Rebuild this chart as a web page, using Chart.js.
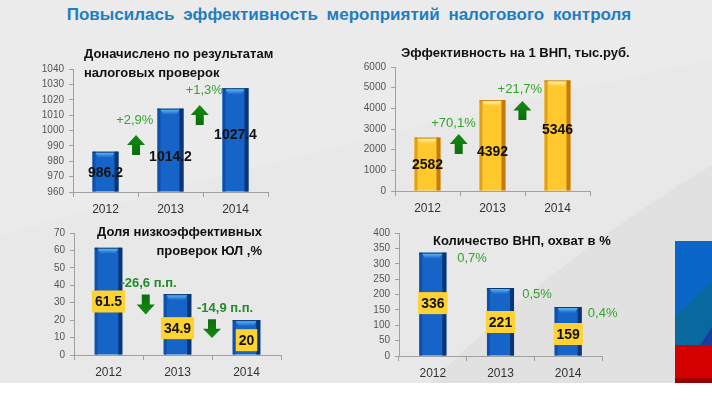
<!DOCTYPE html>
<html>
<head>
<meta charset="utf-8">
<script src="https://cdn.jsdelivr.net/npm/chart.js@4"></script>
<style>
    body { margin: 0; }
    #page { position: relative; width: 712px; height: 410px; overflow: hidden; background: #e8e8e8; font-family: "Liberation Sans", Arial, sans-serif; }
    #bg { position: absolute; left: 0; top: 0; }
    canvas { position: absolute; }
    .title { position: absolute; left: 0; width: 698px; top: 5px; text-align: center; color: #1f7dc4; font: bold 17px "Liberation Sans", Arial, sans-serif; word-spacing: 4px; }
    .ct { position: absolute; font: bold 13px "Liberation Sans", Arial, sans-serif; color: #111; line-height: 19px; white-space: nowrap; }
    #strip { position: absolute; left: 0; top: 383px; width: 712px; height: 27px; background: #fff; }
    #flag { position: absolute; left: 675px; top: 241px; }
</style>
</head>
<body>
<div id="page">
    <svg id="bg" width="712" height="410">
        <path d="M0 0 L712 0 L712 60 Q 420 120 0 235 Z" fill="#ebebeb"/>
        <path d="M430 383 Q 560 255 712 165 L712 383 Z" fill="#e1e1e1"/>
    </svg>
    <div class="title">Повысилась эффективность мероприятий налогового контроля</div>

    <canvas id="c1" width="300" height="180" style="left:0px;top:40px"></canvas>
    <canvas id="c2" width="290" height="180" style="left:356px;top:40px"></canvas>
    <canvas id="c3" width="300" height="161" style="left:0px;top:222px"></canvas>
    <canvas id="c4" width="300" height="161" style="left:356px;top:222px"></canvas>

    <div class="ct" style="left:84px;top:44px">Доначислено по результатам<br>налоговых проверок</div>
    <div class="ct" style="left:401px;top:43px">Эффективность на 1 ВНП, тыс.руб.</div>
    <div class="ct" style="right:450px;top:222px;text-align:right">Доля низкоэффективных<br>проверок ЮЛ ,%</div>
    <div class="ct" style="left:433px;top:231px">Количество ВНП, охват в %</div>

    <div id="strip"></div>
    <svg id="flag" width="37" height="142">
        <rect x="0" y="0" width="37" height="104" fill="#0a66c8"/>
        <polygon points="0,76 37,40 37,104 0,104" fill="#08699e"/>
        <polygon points="25,104 37,86 37,104" fill="#1a3d9c"/>
        <rect x="0" y="104" width="37" height="33" fill="#d40000"/>
        <rect x="0" y="137" width="37" height="5" fill="#960000"/>
    </svg>
</div>

<script>
// Данные
const years = ['2012', '2013', '2014'];

const additional = [986.2, 1014.2, 1027.4];
const additionalTicks = { min: 960, max: 1040, step: 10 };
const additionalGrowth = ['+2,9%', '+1,3%'];

const perAudit = [2582, 4392, 5346];
const perAuditTicks = { min: 0, max: 6000, step: 1000 };
const perAuditGrowth = ['+70,1%', '+21,7%'];

const lowShare = [61.5, 34.9, 20];
const lowShareTicks = { min: 0, max: 70, step: 10 };
const lowShareChange = ['-26,6 п.п.', '-14,9 п.п.'];

const auditCount = [336, 221, 159];
const auditCountTicks = { min: 0, max: 400, step: 50 };
const auditCoverage = ['0,7%', '0,5%', '0,4%'];

const BLUE = { fill: '#1764c8', left: '#0f50aa', right: '#0a3572', top: '#55b6f2' };
const GOLD = { fill: '#ffc92e', left: '#e0a01a', right: '#c47a0c', top: '#fff1a6' };

// Стрелка (вверх или вниз)
function drawArrow(ctx, cx, yTop, yBottom, up) {
    const w = 18, shaft = 8;
    const h = yBottom - yTop;
    const head = h * 0.5;
    const grad = ctx.createLinearGradient(0, yTop, 0, yBottom);
    grad.addColorStop(0, up ? '#138a13' : '#0b6e0b');
    grad.addColorStop(1, up ? '#0b6e0b' : '#138a13');
    ctx.fillStyle = grad;
    ctx.beginPath();
    if (up) {
        ctx.moveTo(cx, yTop);
        ctx.lineTo(cx + w / 2, yTop + head);
        ctx.lineTo(cx + shaft / 2, yTop + head);
        ctx.lineTo(cx + shaft / 2, yBottom);
        ctx.lineTo(cx - shaft / 2, yBottom);
        ctx.lineTo(cx - shaft / 2, yTop + head);
        ctx.lineTo(cx - w / 2, yTop + head);
    } else {
        ctx.moveTo(cx, yBottom);
        ctx.lineTo(cx + w / 2, yBottom - head);
        ctx.lineTo(cx + shaft / 2, yBottom - head);
        ctx.lineTo(cx + shaft / 2, yTop);
        ctx.lineTo(cx - shaft / 2, yTop);
        ctx.lineTo(cx - shaft / 2, yBottom - head);
        ctx.lineTo(cx - w / 2, yBottom - head);
    }
    ctx.closePath();
    ctx.fill();
}

// Оформление столбцов, подписи, стрелки
const decorPlugin = {
    id: 'decor',
    afterDatasetsDraw(chart, args, opts) {
        const ctx = chart.ctx;
        const xs = chart.scales.x;
        const ys = chart.scales.y;
        const meta = chart.getDatasetMeta(0);
        const pal = opts.palette;

        ctx.save();
        meta.data.forEach(bar => {
            const l = bar.x - bar.width / 2;
            const r = bar.x + bar.width / 2;
            const t = bar.y;
            const b = Math.min(bar.base, chart.chartArea.bottom);
            ctx.fillStyle = pal.left;
            ctx.fillRect(l, t, 3, b - t);
            ctx.fillStyle = pal.right;
            ctx.fillRect(r - 4, t, 4, b - t);
            ctx.fillRect(l, t, r - l, 1);
            const g = ctx.createLinearGradient(0, t + 1, 0, t + 6);
            g.addColorStop(0, pal.top);
            g.addColorStop(1, pal.fill);
            ctx.fillStyle = g;
            ctx.beginPath();
            ctx.moveTo(l + 3, t + 1);
            ctx.lineTo(r - 4, t + 1);
            ctx.lineTo(r - 7, t + 6);
            ctx.lineTo(l + 6, t + 6);
            ctx.closePath();
            ctx.fill();
        });

        // значения
        ctx.textAlign = 'center';
        ctx.textBaseline = 'middle';
        ctx.font = 'bold 14px "Liberation Sans", Arial, sans-serif';
        opts.values.forEach((v, i) => {
            const x = xs.getPixelForValue(i);
            const y = ys.getPixelForValue(opts.valueAt[i]);
            const txt = String(v);
            if (opts.boxed) {
                const tw = ctx.measureText(txt).width + 6;
                ctx.fillStyle = '#ffd233';
                ctx.fillRect(x - tw / 2, y - 11, tw, 22);
            }
            ctx.fillStyle = '#111';
            ctx.fillText(txt, x, y + 1);
        });

        // проценты
        ctx.font = opts.noteFont;
        ctx.fillStyle = opts.noteColor;
        opts.notes.forEach((txt, i) => {
            const p = opts.noteAt[i];
            ctx.fillText(txt, xs.getPixelForValue(p[0]), ys.getPixelForValue(p[1]));
        });

        // стрелки
        (opts.arrows || []).forEach(a => {
            drawArrow(ctx, xs.getPixelForValue(a[0]), ys.getPixelForValue(a[1]), ys.getPixelForValue(a[2]), opts.up);
        });
        ctx.restore();
    }
};

function makeChart(id, canvasRect, plot, values, ticks, decor) {
    const [cx, cy, cw, ch] = canvasRect;
    return new Chart(document.getElementById(id), {
        type: 'bar',
        data: {
            labels: years,
            datasets: [{
                data: values,
                base: ticks.min,
                backgroundColor: decor.palette.fill,
                borderWidth: 0,
                barPercentage: 0.4,
                categoryPercentage: 1
            }]
        },
        options: {
            responsive: false,
            animation: false,
            devicePixelRatio: 1,
            layout: {
                padding: { left: 0, bottom: 0, top: plot.top - cy, right: cx + cw - plot.right }
            },
            plugins: {
                legend: { display: false },
                tooltip: { enabled: false },
                decor: decor
            },
            scales: {
                x: {
                    afterFit: s => { s.height = cy + ch - plot.bottom; },
                    grid: { offset: true, drawOnChartArea: false, tickLength: 5, color: '#a0a0a0' },
                    border: { color: '#a0a0a0' },
                    ticks: { color: '#333', padding: 5, font: { size: 12, family: '"Liberation Sans", Arial, sans-serif' } }
                },
                y: {
                    min: ticks.min,
                    max: ticks.max,
                    afterFit: s => { s.width = plot.left - cx; },
                    grid: { drawOnChartArea: false, tickLength: 4, color: '#a0a0a0' },
                    border: { color: '#a0a0a0' },
                    ticks: {
                        stepSize: ticks.step,
                        color: '#555',
                        padding: 5,
                        font: { size: 10, family: '"Liberation Sans", Arial, sans-serif' },
                        callback: value => String(value)
                    }
                }
            }
        },
        plugins: [decorPlugin]
    });
}

makeChart('c1', [0, 40, 300, 180], { left: 73, top: 69, right: 268, bottom: 192 }, additional, additionalTicks, {
    palette: BLUE,
    values: additional,
    valueAt: [973, 983.4, 997.7],
    boxed: false,
    notes: additionalGrowth,
    noteAt: [[0.45, 1006.8], [1.52, 1026.3]],
    noteFont: '13px "Liberation Sans", Arial, sans-serif',
    noteColor: '#34a32c',
    up: true,
    arrows: [[0.47, 997.1, 984.1], [1.45, 1016.6, 1003.6]]
});

makeChart('c2', [356, 40, 290, 180], { left: 395, top: 67, right: 590, bottom: 191 }, perAudit, perAuditTicks, {
    palette: GOLD,
    values: perAudit,
    valueAt: [1306, 1936, 3000],
    boxed: false,
    notes: perAuditGrowth,
    noteAt: [[0.4, 3290], [1.42, 4936]],
    noteFont: '13px "Liberation Sans", Arial, sans-serif',
    noteColor: '#34a32c',
    up: true,
    arrows: [[0.48, 2758, 1790], [1.46, 4355, 3436]]
});

makeChart('c3', [0, 222, 300, 161], { left: 74, top: 232, right: 281, bottom: 355 }, lowShare, lowShareTicks, {
    palette: BLUE,
    values: lowShare,
    valueAt: [30.7, 15.4, 8.5],
    boxed: true,
    notes: lowShareChange,
    noteAt: [[0.58, 41.0], [1.69, 26.7]],
    noteFont: 'bold 13px "Liberation Sans", Arial, sans-serif',
    noteColor: '#23892a',
    up: false,
    arrows: [[0.54, 34.7, 23.3], [1.5, 20.5, 9.7]]
});

makeChart('c4', [356, 222, 300, 161], { left: 399, top: 233, right: 602, bottom: 356 }, auditCount, auditCountTicks, {
    palette: BLUE,
    values: auditCount,
    valueAt: [172, 110.6, 71.5],
    boxed: true,
    notes: auditCoverage,
    noteAt: [[0.58, 318.7], [1.54, 201.6], [2.51, 139.8]],
    noteFont: '13px "Liberation Sans", Arial, sans-serif',
    noteColor: '#34a32c',
    up: true,
    arrows: []
});
</script>
</body>
</html>
